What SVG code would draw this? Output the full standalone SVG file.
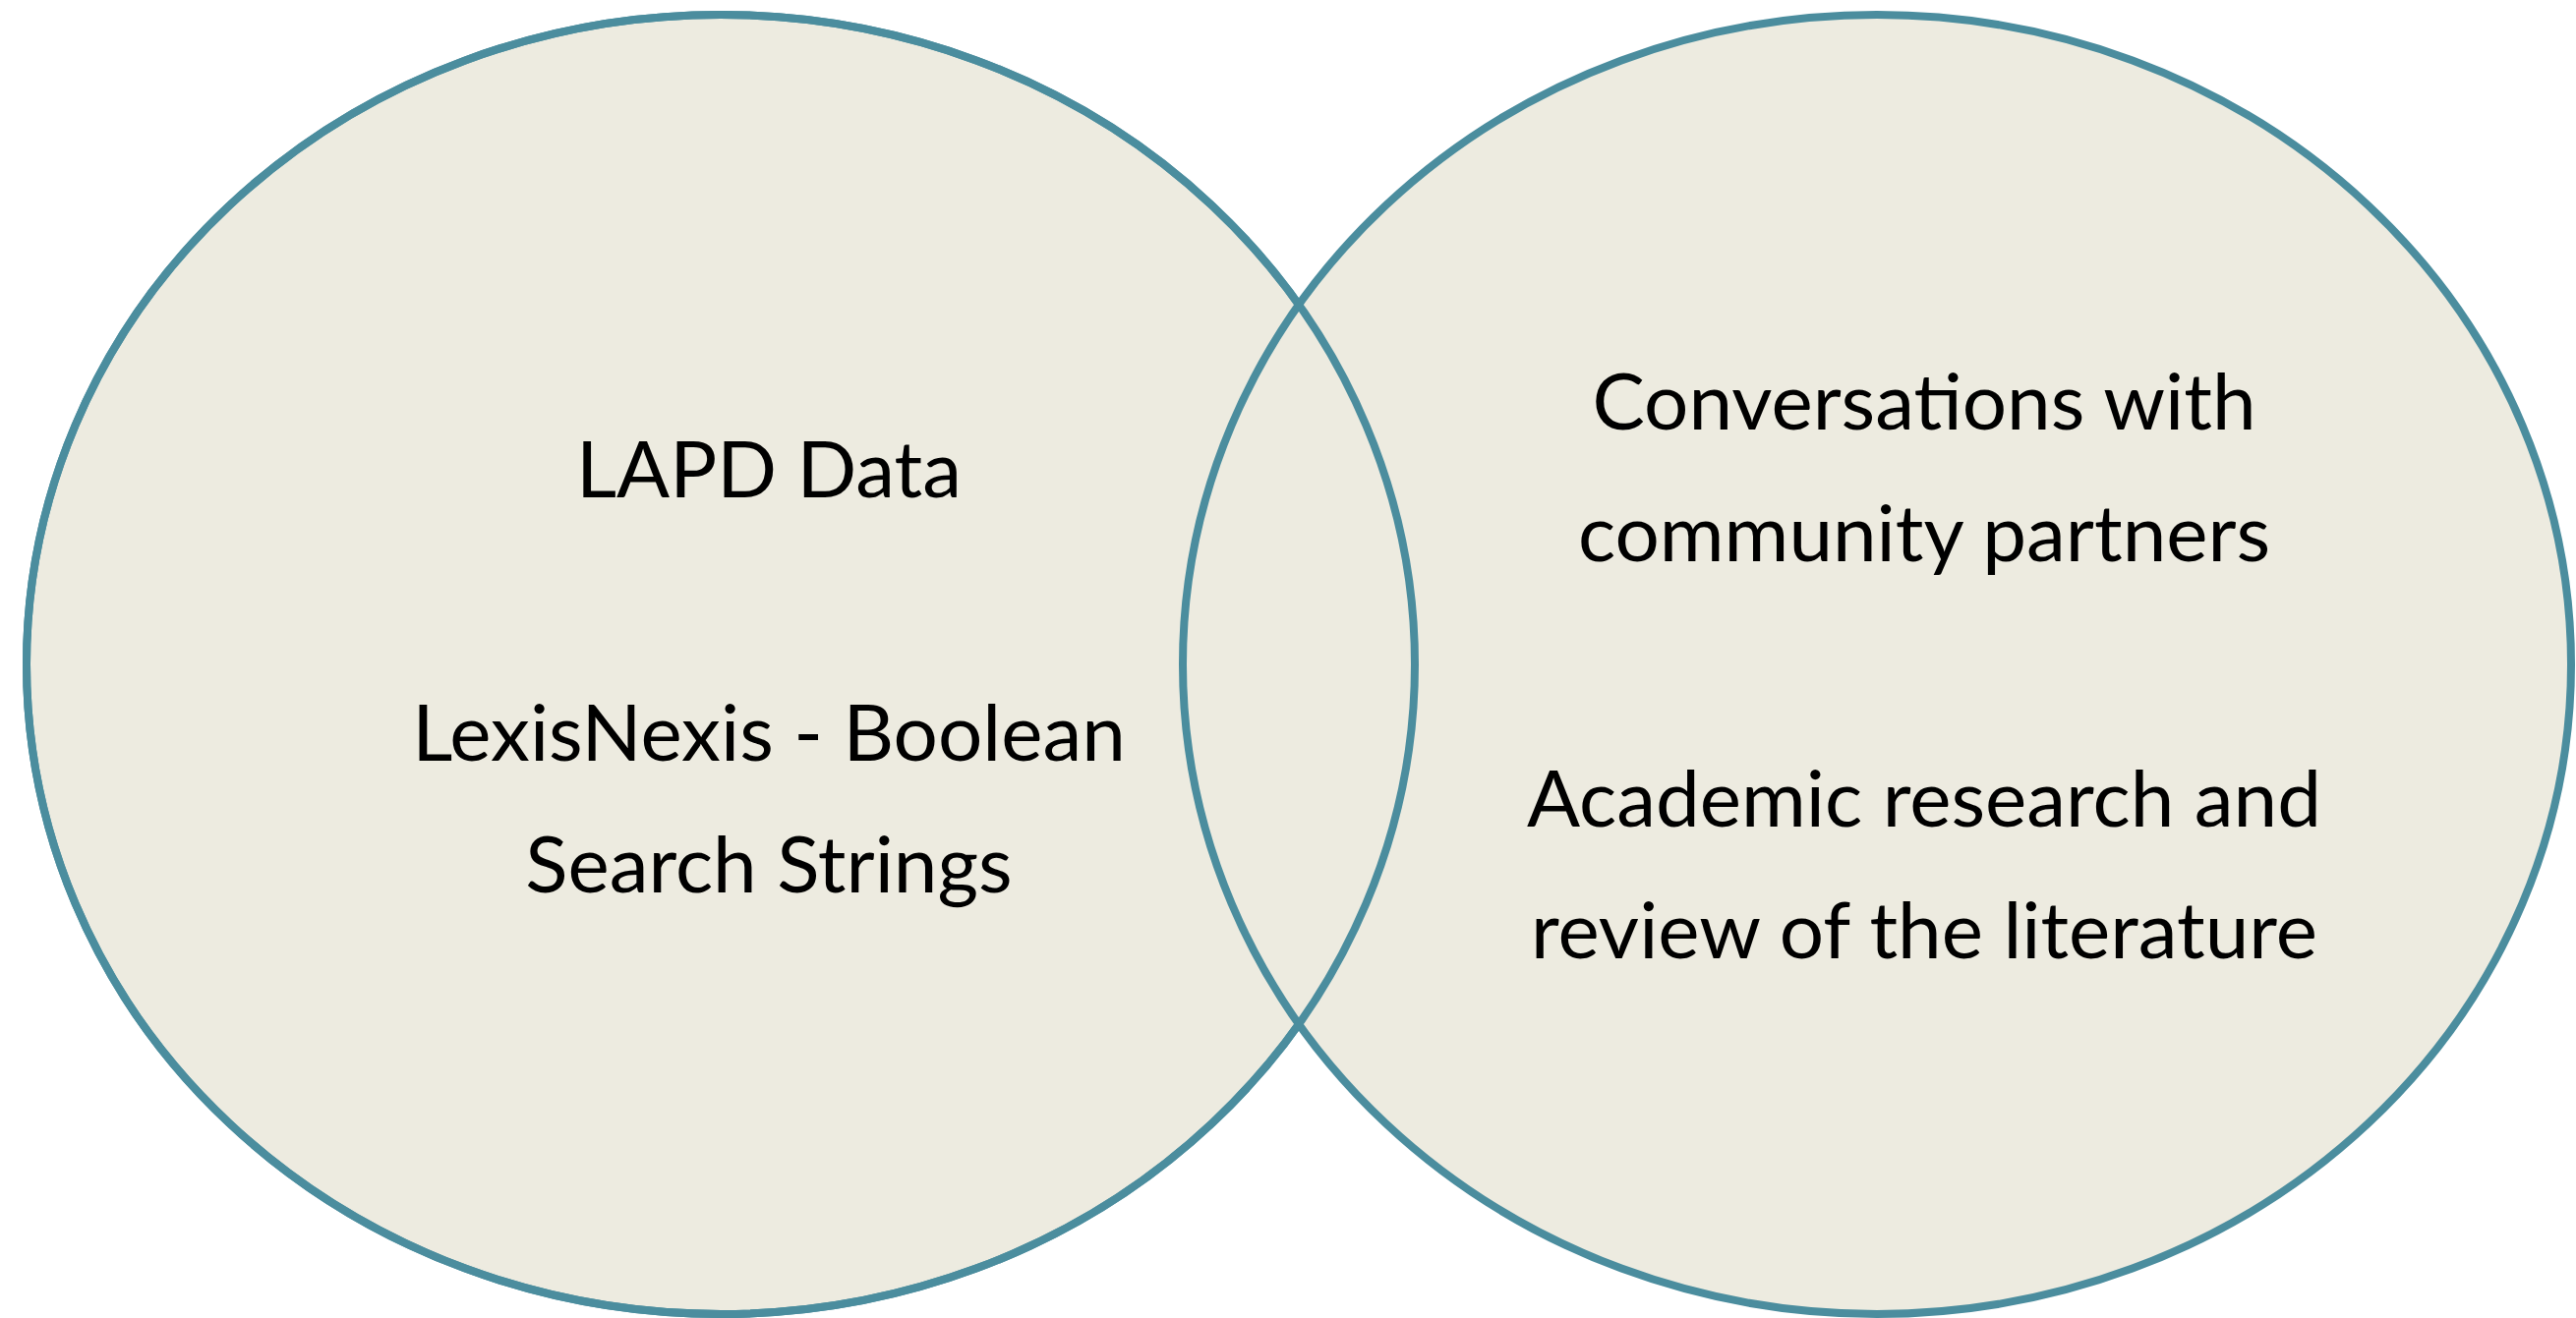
<svg xmlns="http://www.w3.org/2000/svg" width="2620" height="1341" viewBox="0 0 2620 1341">
<style>
.circle{fill:#edebe0;stroke:#4b8d9e;stroke-width:8}
.outline{fill:none;stroke:#4b8d9e;stroke-width:8}
.lbl{font-family:Lato,"Open Sans",sans-serif;font-size:80px;fill:#000;text-anchor:middle}
</style>
<rect width="2620" height="1341" fill="#ffffff"/>
<g id="left-set">
<ellipse class="circle" cx="733" cy="676" rx="706" ry="661"/>
</g>
<g id="right-set">
<ellipse class="circle" cx="1909" cy="676" rx="706" ry="661"/>
</g>
<g id="connectors">
<ellipse class="outline" cx="733" cy="676" rx="706" ry="661"/>
</g>
<g id="left-labels">
<text class="lbl" x="782" y="506">LAPD Data</text>
<text class="lbl" x="782" y="774">LexisNexis - Boolean</text>
<text class="lbl" x="782" y="908">Search Strings</text>
</g>
<g id="right-labels">
<text class="lbl" x="1957" y="437">Conversations with</text>
<text class="lbl" x="1957" y="571">community partners</text>
<text class="lbl" x="1957" y="841">Academic research and</text>
<text class="lbl" x="1957" y="975">review of the literature</text>
</g>
</svg>
